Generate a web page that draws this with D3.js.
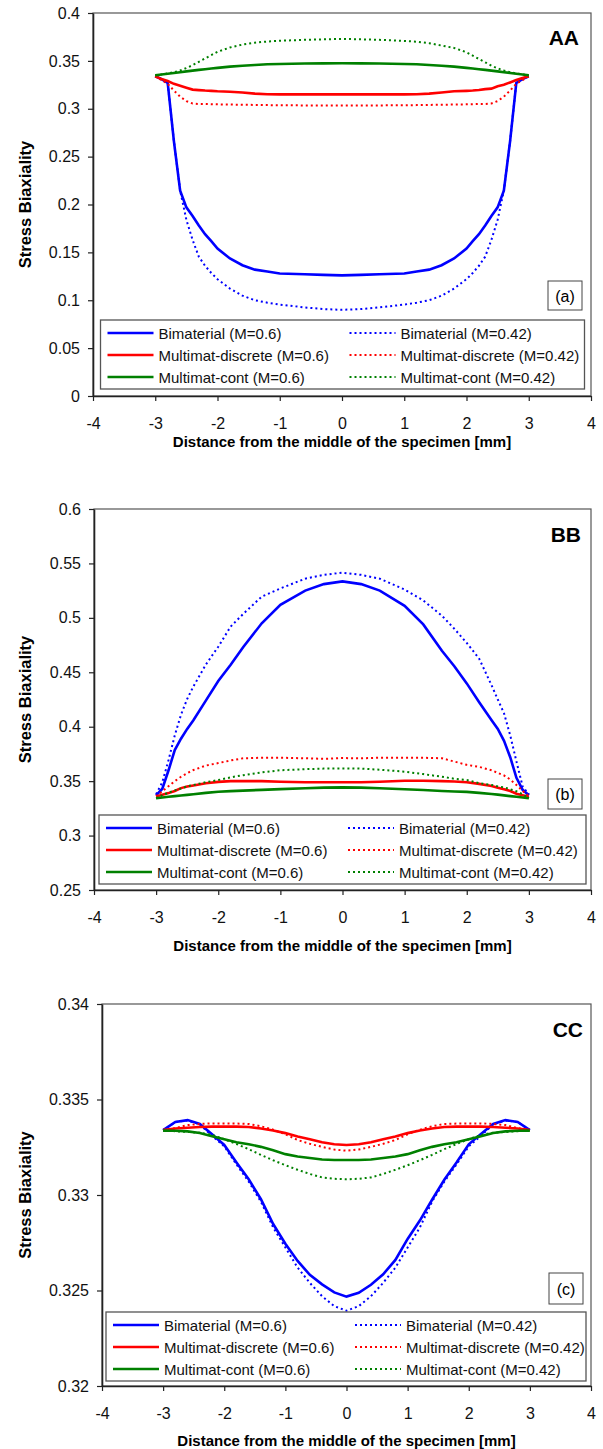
<!DOCTYPE html>
<html>
<head>
<meta charset="utf-8">
<script src="https://cdn.jsdelivr.net/npm/d3@7"></script>
<style>
  body { margin: 0; background: #fff; }
  svg { display: block; font-family: "Liberation Sans", Arial, sans-serif; }
</style>
</head>
<body>
<svg id="chart" width="603" height="1449"></svg>
<script>
//Axis ticks
const xTicks = [-4, -3, -2, -1, 0, 1, 2, 3, 4];
const aaYTicks = [0, 0.05, 0.1, 0.15, 0.2, 0.25, 0.3, 0.35, 0.4];
const bbYTicks = [0.25, 0.3, 0.35, 0.4, 0.45, 0.5, 0.55, 0.6];
const ccYTicks = [0.32, 0.325, 0.33, 0.335, 0.34];

//Series names, legend column 1 = M=0.6, column 2 = M=0.42
const seriesNames = [
  'Bimaterial (M=0.6)', 'Bimaterial (M=0.42)',
  'Multimat-discrete (M=0.6)', 'Multimat-discrete (M=0.42)',
  'Multimat-cont (M=0.6)', 'Multimat-cont (M=0.42)'
];

//Section AA
const aaX = [-3, -2.9, -2.8, -2.7, -2.6, -2.5, -2.4, -2.3, -2.2, -2.1, -2, -1.8, -1.6, -1.4, -1.2, -1, -0.6, -0.3, 0,
  0.3, 0.6, 1, 1.2, 1.4, 1.6, 1.8, 2, 2.1, 2.2, 2.3, 2.4, 2.5, 2.6, 2.7, 2.8, 2.9, 3];
const aaBimat06 = [0.334, 0.331, 0.327, 0.266, 0.2145, 0.197, 0.188, 0.178, 0.169, 0.1617, 0.154, 0.1436, 0.1366, 0.132, 0.130, 0.128, 0.1272, 0.1265, 0.126,
  0.1265, 0.1272, 0.128, 0.130, 0.132, 0.1366, 0.1436, 0.154, 0.1617, 0.169, 0.178, 0.188, 0.197, 0.2145, 0.266, 0.327, 0.331, 0.334];
const aaBimat042 = [0.334, 0.331, 0.327, 0.266, 0.2145, 0.184, 0.163, 0.1455, 0.136, 0.1285, 0.122, 0.1122, 0.1048, 0.100, 0.0975, 0.0955, 0.0925, 0.0908, 0.090,
  0.0908, 0.0925, 0.0955, 0.0975, 0.100, 0.1048, 0.1122, 0.122, 0.1285, 0.136, 0.1455, 0.163, 0.184, 0.2145, 0.266, 0.327, 0.331, 0.334];
const aaDisc06 = [0.334, 0.331, 0.329, 0.326, 0.324, 0.322, 0.320, 0.3195, 0.319, 0.3187, 0.3183, 0.3178, 0.317, 0.3158, 0.3152, 0.315, 0.315, 0.315, 0.315,
  0.315, 0.315, 0.315, 0.3152, 0.3158, 0.317, 0.3182, 0.3187, 0.319, 0.3195, 0.3205, 0.321, 0.3235, 0.325, 0.3275, 0.330, 0.332, 0.334];
const aaDisc042 = [0.334, 0.330, 0.326, 0.319, 0.3126, 0.308, 0.3055, 0.305, 0.305, 0.3048, 0.3046, 0.3044, 0.3042, 0.304, 0.3038, 0.3036, 0.3035, 0.3035, 0.3035,
  0.3035, 0.3035, 0.3036, 0.3038, 0.304, 0.3042, 0.3044, 0.3046, 0.3048, 0.305, 0.305, 0.3055, 0.308, 0.3126, 0.319, 0.326, 0.330, 0.334];
const aaCont06 = [0.335, 0.3358, 0.3366, 0.3374, 0.3382, 0.339, 0.3398, 0.3406, 0.3413, 0.342, 0.3427, 0.344, 0.3449, 0.3457, 0.3464, 0.3468, 0.3472, 0.3474, 0.3475,
  0.3474, 0.3472, 0.3468, 0.3464, 0.3457, 0.3449, 0.344, 0.3427, 0.342, 0.3413, 0.3406, 0.3398, 0.339, 0.3382, 0.3374, 0.3366, 0.3358, 0.335];
const aaCont042 = [0.335, 0.3358, 0.3368, 0.3382, 0.340, 0.3425, 0.3455, 0.349, 0.3525, 0.356, 0.3595, 0.364, 0.367, 0.369, 0.3702, 0.371, 0.372, 0.3725, 0.373,
  0.3725, 0.372, 0.3708, 0.370, 0.3685, 0.366, 0.3635, 0.359, 0.3555, 0.352, 0.3485, 0.345, 0.3422, 0.340, 0.3382, 0.3368, 0.3358, 0.335];

//Section BB
const bbX = [-3, -2.9, -2.8, -2.7, -2.6, -2.5, -2.4, -2.2, -2, -1.8, -1.6, -1.3, -1, -0.6, -0.3, 0,
  0.3, 0.6, 1, 1.3, 1.6, 1.8, 2, 2.2, 2.4, 2.5, 2.6, 2.7, 2.8, 2.9, 3];
const bbBimat06 = [0.337, 0.343, 0.360, 0.3786, 0.389, 0.398, 0.406, 0.424, 0.442, 0.457, 0.473, 0.495, 0.512, 0.525, 0.531, 0.5335,
  0.531, 0.525, 0.511, 0.494, 0.4697, 0.4555, 0.4398, 0.4225, 0.406, 0.398, 0.387, 0.372, 0.353, 0.342, 0.337];
const bbBimat042 = [0.338, 0.349, 0.3694, 0.392, 0.411, 0.4255, 0.437, 0.457, 0.4735, 0.492, 0.5035, 0.5195, 0.527, 0.536, 0.5395, 0.5415,
  0.5395, 0.536, 0.526, 0.516, 0.502, 0.490, 0.477, 0.4625, 0.438, 0.425, 0.4123, 0.392, 0.368, 0.345, 0.338];
const bbDisc06 = [0.336, 0.3375, 0.339, 0.341, 0.3436, 0.345, 0.346, 0.348, 0.3493, 0.350, 0.350, 0.350, 0.3495, 0.349, 0.349, 0.349,
  0.349, 0.3495, 0.3503, 0.3503, 0.350, 0.3497, 0.349, 0.3475, 0.3455, 0.344, 0.3425, 0.341, 0.3385, 0.337, 0.3355];
const bbDisc042 = [0.336, 0.3407, 0.3454, 0.350, 0.354, 0.3573, 0.3602, 0.3643, 0.3666, 0.369, 0.371, 0.3715, 0.3715, 0.371, 0.3705, 0.3712,
  0.371, 0.3715, 0.3715, 0.3715, 0.371, 0.368, 0.365, 0.3631, 0.360, 0.3575, 0.3552, 0.3515, 0.3465, 0.341, 0.336];
const bbCont06 = [0.3343, 0.335, 0.3356, 0.3362, 0.3368, 0.3374, 0.338, 0.3392, 0.3403, 0.3408, 0.3413, 0.342, 0.3427, 0.3435, 0.344, 0.3443,
  0.344, 0.3435, 0.3425, 0.3418, 0.341, 0.3405, 0.3401, 0.3392, 0.3382, 0.3376, 0.3369, 0.3362, 0.3356, 0.335, 0.3343];
const bbCont042 = [0.3343, 0.337, 0.3395, 0.3415, 0.3432, 0.3452, 0.3465, 0.349, 0.351, 0.3535, 0.3555, 0.358, 0.360, 0.361, 0.3615, 0.3617,
  0.3615, 0.3605, 0.3587, 0.3565, 0.354, 0.3522, 0.351, 0.3482, 0.3465, 0.3452, 0.3443, 0.3425, 0.3407, 0.338, 0.3343];

//Section CC
const ccX = [-3, -2.8, -2.6, -2.4, -2.2, -2, -1.8, -1.6, -1.4, -1.2, -1, -0.8, -0.6, -0.4, -0.2, 0,
  0.2, 0.4, 0.6, 0.8, 1, 1.2, 1.4, 1.6, 1.8, 2, 2.2, 2.4, 2.6, 2.8, 3];
const ccBimat06 = [0.3334, 0.33382, 0.33392, 0.33372, 0.33318, 0.33262, 0.3317, 0.33082, 0.32978, 0.32848, 0.32745, 0.32655, 0.32582, 0.32532, 0.3249, 0.32468,
  0.32488, 0.3253, 0.32585, 0.3266, 0.3277, 0.32866, 0.32975, 0.3308, 0.3317, 0.33265, 0.3332, 0.33372, 0.33392, 0.33382, 0.3334];
const ccBimat042 = [0.3334, 0.33382, 0.3339, 0.3337, 0.3331, 0.33255, 0.3316, 0.3307, 0.32965, 0.3283, 0.32725, 0.3262, 0.3254, 0.3247, 0.32418, 0.32394,
  0.32418, 0.3247, 0.3254, 0.3262, 0.32725, 0.3283, 0.32965, 0.3307, 0.3316, 0.33255, 0.3331, 0.3337, 0.3339, 0.33382, 0.3334];
const ccDisc06 = [0.3334, 0.33348, 0.33352, 0.33356, 0.33358, 0.33358, 0.33358, 0.33356, 0.33348, 0.33338, 0.33324, 0.33306, 0.33292, 0.33276, 0.33266, 0.33262,
  0.33266, 0.33276, 0.33292, 0.33306, 0.33324, 0.33338, 0.33348, 0.33356, 0.33358, 0.33358, 0.33358, 0.33356, 0.33352, 0.33348, 0.3334];
const ccDisc042 = [0.3334, 0.3335, 0.33366, 0.33372, 0.33375, 0.33375, 0.33374, 0.33372, 0.3336, 0.33342, 0.33318, 0.33288, 0.33268, 0.33252, 0.33238, 0.33232,
  0.33238, 0.33252, 0.33268, 0.33288, 0.33318, 0.33342, 0.3336, 0.33372, 0.33374, 0.33375, 0.33375, 0.33372, 0.33366, 0.3335, 0.3334];
const ccCont06 = [0.33337, 0.33336, 0.33333, 0.33325, 0.33308, 0.33292, 0.33276, 0.33266, 0.33252, 0.33234, 0.33214, 0.33202, 0.33194, 0.33186, 0.33183, 0.33183,
  0.33183, 0.33186, 0.33194, 0.33202, 0.33214, 0.33234, 0.33252, 0.33266, 0.33276, 0.33292, 0.33308, 0.33325, 0.33333, 0.33336, 0.33337];
const ccCont042 = [0.33337, 0.33334, 0.3333, 0.33326, 0.33315, 0.33292, 0.33267, 0.3324, 0.3321, 0.33182, 0.33156, 0.33132, 0.3311, 0.33092, 0.33085, 0.33082,
  0.33085, 0.33092, 0.3311, 0.33132, 0.33156, 0.33182, 0.3321, 0.3324, 0.33267, 0.33292, 0.33315, 0.33326, 0.3333, 0.33334, 0.33337];

//Line styles, same order as seriesNames
const colors = ['#0000ff', '#0000ff', '#ff0000', '#ff0000', '#008000', '#008000'];
const dotted = [false, true, false, true, false, true];

const font = '"Liberation Sans", Arial, sans-serif';

const panels = [
  {
    name: 'AA', tag: '(a)', x: aaX, yDomain: [0, 0.4], yTicks: aaYTicks,
    series: [aaBimat06, aaBimat042, aaDisc06, aaDisc042, aaCont06, aaCont042],
    left: 93, right: 591, top: 13, bottom: 396, titleY: 447,
    legend: { x: 100.5, y: 320, w: 484, h: 69 },
    tagBox: { x: 548, y: 281, w: 34, h: 29 }, nameRight: 579, nameY: 45
  },
  {
    name: 'BB', tag: '(b)', x: bbX, yDomain: [0.25, 0.6], yTicks: bbYTicks,
    series: [bbBimat06, bbBimat042, bbDisc06, bbDisc042, bbCont06, bbCont042],
    left: 94, right: 591, top: 509, bottom: 890, titleY: 951,
    legend: { x: 99, y: 815, w: 487, h: 69 },
    tagBox: { x: 548, y: 779, w: 34, h: 30 }, nameRight: 581, nameY: 542
  },
  {
    name: 'CC', tag: '(c)', x: ccX, yDomain: [0.32, 0.34], yTicks: ccYTicks,
    series: [ccBimat06, ccBimat042, ccDisc06, ccDisc042, ccCont06, ccCont042],
    left: 102, right: 591, top: 1004, bottom: 1386, titleY: 1446,
    legend: { x: 106, y: 1312, w: 480, h: 69 },
    tagBox: { x: 549, y: 1273, w: 34, h: 31 }, nameRight: 583, nameY: 1037
  }
];

const svg = d3.select('#chart');

panels.forEach(drawPanel);

function styleLine(sel, i) {
  sel
    .attr('fill', 'none')
    .attr('stroke', colors[i])
    .attr('stroke-width', dotted[i] ? 2 : 2.6)
    .attr('stroke-dasharray', dotted[i] ? '2,3' : null);
}

function drawPanel(p) {
  const x = d3.scaleLinear().domain([-4, 4]).range([p.left, p.right]);
  const y = d3.scaleLinear().domain(p.yDomain).range([p.bottom, p.top]);
  const g = svg.append('g');

  //Plot frame
  g.append('rect')
    .attr('x', p.left)
    .attr('y', p.top)
    .attr('width', p.right - p.left)
    .attr('height', p.bottom - p.top)
    .attr('fill', 'none')
    .attr('stroke', '#555')
    .attr('stroke-width', 1.2);

  //Axes
  const yAxis = g.append('g')
    .attr('transform', `translate(${p.left},0)`)
    .call(d3.axisLeft(y).tickValues(p.yTicks).tickFormat(d => String(d)).tickSize(5).tickSizeOuter(0).tickPadding(8));
  const xAxis = g.append('g')
    .attr('transform', `translate(0,${p.bottom})`)
    .call(d3.axisBottom(x).tickValues(xTicks).tickFormat(d => String(d)).tickSize(5).tickSizeOuter(0).tickPadding(17));
  [yAxis, xAxis].forEach(a => {
    a.select('.domain').attr('stroke', '#222').attr('stroke-width', 1.6);
    a.selectAll('.tick line').attr('stroke', '#222').attr('stroke-width', 1.2);
    a.selectAll('.tick text')
      .attr('fill', '#111')
      .style('font-family', font)
      .style('font-size', '16px');
  });

  //Axis titles
  g.append('text')
    .attr('x', (p.left + p.right) / 2)
    .attr('y', p.titleY)
    .attr('text-anchor', 'middle')
    .style('font-family', font)
    .style('font-size', '15px')
    .style('font-weight', 'bold')
    .text('Distance from the middle of the specimen [mm]');
  g.append('text')
    .attr('transform', `translate(31,${(p.top + p.bottom) / 2}) rotate(-90)`)
    .attr('text-anchor', 'middle')
    .style('font-family', font)
    .style('font-size', '16.5px')
    .style('font-weight', 'bold')
    .text('Stress Biaxiality');

  //Curves
  const line = d3.line()
    .x((d, i) => x(p.x[i]))
    .y(d => y(d));
  p.series.forEach((s, i) => {
    g.append('path')
      .attr('d', line(s))
      .call(styleLine, i);
  });

  //Section name
  g.append('text')
    .attr('x', p.nameRight)
    .attr('y', p.nameY)
    .attr('text-anchor', 'end')
    .style('font-family', font)
    .style('font-size', '21px')
    .style('font-weight', 'bold')
    .text(p.name);

  //Tag box
  g.append('rect')
    .attr('x', p.tagBox.x)
    .attr('y', p.tagBox.y)
    .attr('width', p.tagBox.w)
    .attr('height', p.tagBox.h)
    .attr('fill', '#fff')
    .attr('stroke', '#444')
    .attr('stroke-width', 1);
  g.append('text')
    .attr('x', p.tagBox.x + p.tagBox.w / 2)
    .attr('y', p.tagBox.y + p.tagBox.h / 2 + 6)
    .attr('text-anchor', 'middle')
    .style('font-family', font)
    .style('font-size', '16px')
    .text(p.tag);

  //Legend
  const lg = g.append('g').attr('transform', `translate(${p.legend.x},${p.legend.y})`);
  lg.append('rect')
    .attr('width', p.legend.w)
    .attr('height', p.legend.h)
    .attr('fill', '#fff')
    .attr('stroke', '#555')
    .attr('stroke-width', 1.3);
  seriesNames.forEach((name, i) => {
    const col = i % 2;
    const row = Math.floor(i / 2);
    const x0 = col === 0 ? 7 : 249;
    const yy = 13 + row * 22;
    lg.append('line')
      .attr('x1', x0)
      .attr('x2', x0 + 46)
      .attr('y1', yy)
      .attr('y2', yy)
      .call(styleLine, i);
    lg.append('text')
      .attr('x', x0 + 51)
      .attr('y', yy + 5.5)
      .style('font-family', font)
      .style('font-size', '15px')
      .attr('fill', '#111')
      .text(name);
  });
}
</script>
</body>
</html>
